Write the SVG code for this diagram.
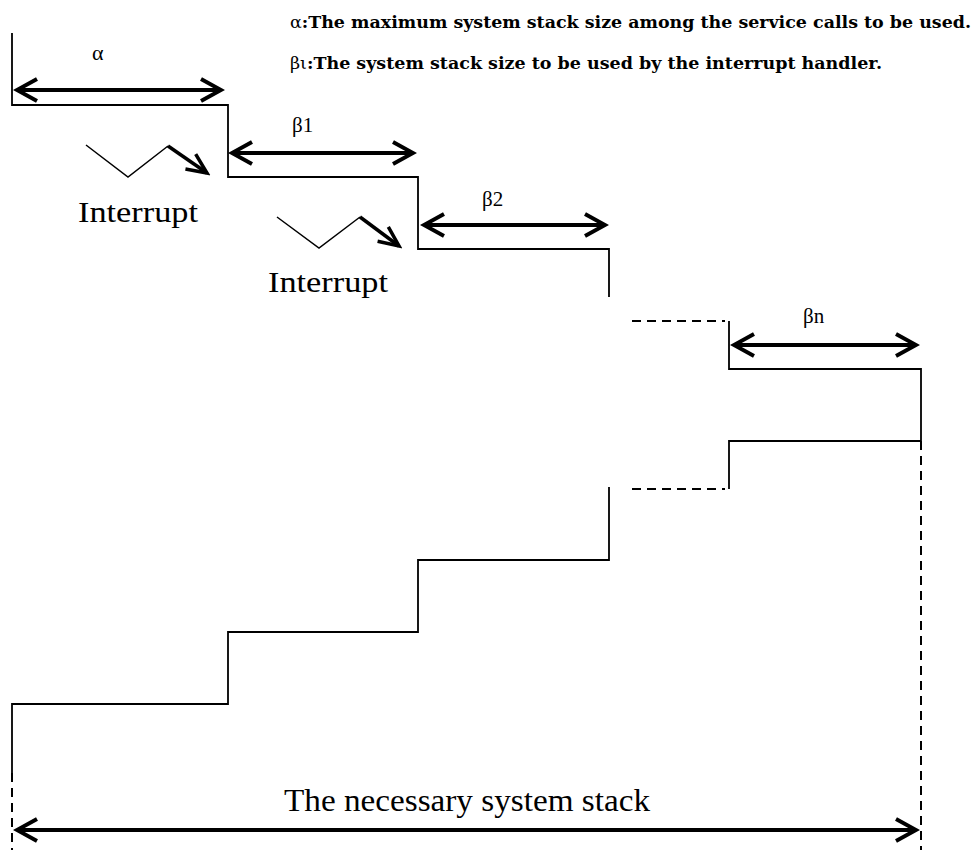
<svg xmlns="http://www.w3.org/2000/svg" width="979" height="850" viewBox="0 0 979 850">
<style>
.stair{fill:none;stroke:#000;stroke-width:1.8}
.dash{fill:none;stroke:#000;stroke-width:2;stroke-dasharray:9 6}
.dim{fill:none;stroke:#000;stroke-width:4;marker-start:url(#chev);marker-end:url(#chev)}
.zig{fill:none;stroke:#000;stroke-width:1.5}
.zarrow{fill:none;stroke:#000;stroke-width:3.5;marker-end:url(#chev2)}
.lbl{font-family:"Liberation Serif","Times New Roman",serif;fill:#000}
.leg{font-family:"DejaVu Serif","Liberation Serif",serif;font-weight:bold;font-size:16px;fill:#000}
.g{font-weight:normal}
</style>
<defs>
<marker id="chev" markerUnits="userSpaceOnUse" viewBox="-26 -14 30 28" markerWidth="30" markerHeight="28" refX="0" refY="0" orient="auto-start-reverse">
<path d="M-20,-11 L0,0 L-20,11" fill="none" stroke="#000" stroke-width="4"/>
</marker>
<marker id="chev2" markerUnits="userSpaceOnUse" viewBox="-26 -14 30 28" markerWidth="30" markerHeight="28" refX="0" refY="0" orient="auto">
<path d="M-20,-9 L0,0 L-20,9" fill="none" stroke="#000" stroke-width="3.5"/>
</marker>
</defs>

<g id="legend">
<text class="leg" x="290" y="28" textLength="681" lengthAdjust="spacingAndGlyphs"><tspan class="g">α</tspan>:The maximum system stack size among the service calls to be used.</text>
<text class="leg" x="290" y="69" textLength="592" lengthAdjust="spacingAndGlyphs"><tspan class="g">βι</tspan>:The system stack size to be used by the interrupt handler.</text>
</g>

<g id="upper-stair">
<path class="stair" d="M12,33 V105 H228 V177 H418 V249 H609 V297"/>
<path class="dash" d="M632,321 H725"/>
<path class="stair" d="M729,321 V369 H921 V441 H729 V489"/>
<path class="dash" d="M632,489 H725"/>
</g>

<g id="lower-stair">
<path class="stair" d="M609,487 V560 H418 V632 H228 V704 H12 V773"/>
<path class="dash" d="M12,773 V850"/>
<path class="dash" d="M921,441 V850"/>
</g>

<g id="interrupt1">
<path class="zig" d="M86,145 L128,177 L168,146"/>
<path class="zarrow" d="M168,146 L207,173"/>
<text class="lbl" x="78" y="222" font-size="30" textLength="120" lengthAdjust="spacingAndGlyphs">Interrupt</text>
</g>

<g id="interrupt2">
<path class="zig" d="M277,217 L319,248 L360,217"/>
<path class="zarrow" d="M360,217 L399,246"/>
<text class="lbl" x="268" y="292" font-size="30" textLength="120" lengthAdjust="spacingAndGlyphs">Interrupt</text>
</g>

<g id="connectors">
<line class="dim" x1="17" y1="90" x2="221" y2="90"/>
<line class="dim" x1="232" y1="153" x2="413" y2="153"/>
<line class="dim" x1="424" y1="225" x2="605" y2="225"/>
<line class="dim" x1="734" y1="345" x2="916" y2="345"/>
<line class="dim" x1="17" y1="830" x2="916" y2="830"/>
</g>

<g id="labels">
<text class="lbl" x="92" y="60" font-size="22">α</text>
<text class="lbl" x="292" y="132" font-size="21">β1</text>
<text class="lbl" x="482" y="206" font-size="21">β2</text>
<text class="lbl" x="803" y="323" font-size="21">βn</text>
<text class="lbl" x="284" y="811" font-size="31" textLength="366" lengthAdjust="spacingAndGlyphs">The necessary system stack</text>
</g>
</svg>
